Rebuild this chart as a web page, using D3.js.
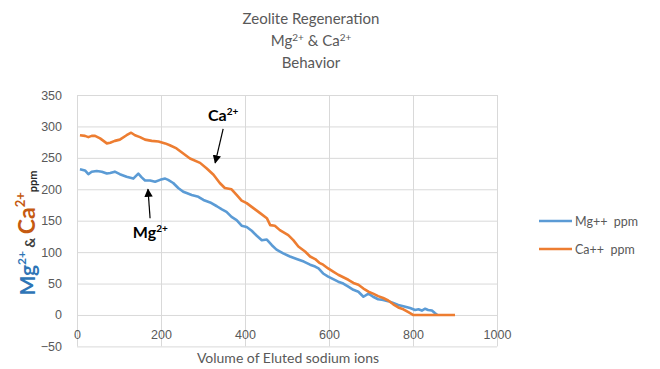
<!DOCTYPE html>
<html>
<head>
<meta charset="utf-8">
<script src="https://cdn.jsdelivr.net/npm/d3@7"></script>
<style>
  body { margin: 0; background: #fff; }
  svg { display: block; font-family: Lato, "Open Sans", sans-serif; }
  .grid line { stroke: #d9d9d9; }
  .grid path { display: none; }
  .tick text { fill: #595959; font-size: 12.5px; }
</style>
</head>
<body>
<div id="chart"></div>
<script>
// volume of eluted sodium ions (x) and ppm readings
var mgVolume = [7, 19, 27, 35, 47, 59, 71, 79, 90, 102, 118, 134, 146, 154, 162, 174, 186, 198, 210, 217,
  229, 241, 253, 261, 273, 289, 301, 317, 333, 345, 356, 368, 380, 392, 404, 416, 428, 440, 452, 464,
  475, 491, 507, 523, 540, 555, 567, 575, 586, 598, 610, 622, 634, 646, 658, 670, 682, 694, 705, 717,
  729, 741, 753, 765, 777, 793, 805, 813, 821, 829, 836, 845, 852, 858];
var mgPpm = [232, 230, 224, 228, 229, 228, 225, 226, 228, 224, 220, 217, 225, 219, 214, 214, 212, 215, 217, 215,
  210, 202, 196, 194, 191, 188, 183, 179, 173, 168, 164, 156, 151, 142, 140, 134, 126, 119, 120, 111,
  104, 98, 93, 89, 85, 80, 77, 74, 66, 61, 57, 53, 50, 45, 40, 37, 29, 34, 29, 25,
  24, 22, 19, 16, 14, 11, 8, 9, 7, 10, 8, 7, 3, 0];

var caVolume = [7, 19, 27, 35, 43, 55, 71, 79, 90, 102, 118, 129, 138, 150, 162, 178, 194, 210, 221, 237,
  253, 269, 293, 309, 325, 340, 352, 368, 380, 392, 404, 420, 436, 452, 460, 471, 483, 503, 515, 527,
  543, 555, 567, 577, 586, 598, 610, 622, 634, 646, 658, 670, 682, 694, 705, 717, 729, 741, 753, 765,
  777, 790, 800, 850, 900];
var caPpm = [286, 285, 283, 285, 285, 281, 273, 274, 277, 279, 286, 290, 286, 283, 279, 277, 276, 273, 270, 265,
  257, 249, 242, 233, 223, 210, 202, 200, 191, 182, 178, 170, 162, 154, 143, 142, 135, 127, 119, 109,
  101, 93, 89, 83, 80, 74, 69, 64, 60, 56, 51, 48, 42, 37, 34, 30, 27, 23, 17, 12,
  9, 4, 0, 0, 0];

var xTicks = [0, 200, 400, 600, 800, 1000];
var yTicks = [-50, 0, 50, 100, 150, 200, 250, 300, 350];
var titleLines = ["Zeolite Regeneration", "Mg|2+| & Ca|2+", "Behavior"];
var legendNames = ["Mg++  ppm", "Ca++  ppm"];
var colors = ["#5b9bd5", "#ed7d31"];

var width = 660, height = 369;
var svg = d3.select("#chart").append("svg")
    .attr("width", width)
    .attr("height", height);

var x = d3.scaleLinear().domain([0, 1000]).range([77, 497]);
var y = d3.scaleLinear().domain([-50, 350]).range([346.4, 95]);

// horizontal gridlines + y labels
svg.append("g")
    .attr("class", "grid")
    .attr("transform", "translate(" + x(0) + ",0)")
    .call(d3.axisLeft(y).tickValues(yTicks).tickSize(-(x(1000) - x(0))).tickPadding(15))
    .selectAll("text").style("text-anchor", "end");

// vertical gridlines
svg.append("g")
    .attr("class", "grid")
    .attr("transform", "translate(0," + y(-50) + ")")
    .call(d3.axisBottom(x).tickValues(xTicks).tickSize(-(y(-50) - y(350))).tickFormat(""));

// x labels sit under the zero line
svg.append("g")
    .attr("class", "grid")
    .attr("transform", "translate(0," + y(0) + ")")
    .call(d3.axisBottom(x).tickValues(xTicks).tickSize(0).tickPadding(15).tickFormat(d3.format("d")))
    .call(function (g) { g.selectAll("line").remove(); });

var line = d3.line()
    .x(function (d) { return x(d[0]); })
    .y(function (d) { return y(d[1]); });

var mgData = mgVolume.map(function (v, i) { return [v, mgPpm[i]]; });
var caData = caVolume.map(function (v, i) { return [v, caPpm[i]]; });

svg.append("path").datum(mgData)
    .attr("d", line).attr("fill", "none")
    .attr("stroke", colors[0]).attr("stroke-width", 2.6).attr("stroke-linejoin", "round");
svg.append("path").datum(caData)
    .attr("d", line).attr("fill", "none")
    .attr("stroke", colors[1]).attr("stroke-width", 2.6).attr("stroke-linejoin", "round");

// title, with superscripts marked by |
var title = svg.append("text")
    .attr("text-anchor", "middle")
    .attr("fill", "#595959")
    .style("font-size", "15px");
titleLines.forEach(function (t, i) {
    var row = title.append("tspan").attr("x", 311).attr("y", 24 + i * 22);
    t.split("|").forEach(function (part, j) {
        if (j % 2 == 1) {
            row.append("tspan").attr("dy", -5).style("font-size", "10px").text(part);
        } else {
            var s = row.append("tspan").text(part);
            if (j > 0) s.attr("dy", 5);
        }
    });
});

// x axis title
svg.append("text")
    .attr("x", 288).attr("y", 363)
    .attr("text-anchor", "middle")
    .attr("fill", "#595959")
    .style("font-size", "14px")
    .text("Volume of Eluted sodium ions");

// y axis title
var yt = svg.append("text")
    .attr("transform", "translate(35,233) rotate(-90)")
    .attr("text-anchor", "middle")
    .style("font-weight", "bold");
yt.append("tspan").attr("fill", "#2e75b6").style("font-size", "21px").text("Mg");
yt.append("tspan").attr("fill", "#2e75b6").style("font-size", "12px").attr("dy", -9).text("2+");
yt.append("tspan").attr("fill", "#404040").style("font-size", "14px").attr("dy", 9).text(" & ");
yt.append("tspan").attr("fill", "#c55a11").style("font-size", "23px").text("Ca");
yt.append("tspan").attr("fill", "#c55a11").style("font-size", "13px").attr("dy", -10).text("2+");
yt.append("tspan").attr("fill", "#262626").style("font-size", "11px").attr("dy", 12).text("ppm");

// legend
var legend = svg.append("g");
legendNames.forEach(function (name, i) {
    var ly = 221 + i * 28;
    legend.append("line")
        .attr("x1", 539).attr("x2", 572).attr("y1", ly).attr("y2", ly)
        .attr("stroke", colors[i]).attr("stroke-width", 2.5);
    legend.append("text")
        .attr("x", 575).attr("y", ly + 4.5)
        .attr("fill", "#595959")
        .style("font-size", "12.5px")
        .style("white-space", "pre")
        .text(name);
});

// annotations in data coordinates
var notes = [
    {label: "Ca", at: [312, 309], from: [348, 296], to: [329, 242]},
    {label: "Mg", at: [133, 122], from: [174, 154], to: [169, 200]}
];
svg.append("defs").append("marker")
    .attr("id", "head").attr("viewBox", "0 0 10 10")
    .attr("refX", 9).attr("refY", 5)
    .attr("markerWidth", 7).attr("markerHeight", 7)
    .attr("orient", "auto")
    .append("path").attr("d", "M0,0L10,5L0,10z").attr("fill", "#000");
notes.forEach(function (n) {
    svg.append("line")
        .attr("x1", x(n.from[0])).attr("y1", y(n.from[1]))
        .attr("x2", x(n.to[0])).attr("y2", y(n.to[1]))
        .attr("stroke", "#000").attr("stroke-width", 1.2)
        .attr("marker-end", "url(#head)");
    var t = svg.append("text")
        .attr("x", x(n.at[0])).attr("y", y(n.at[1]))
        .style("font-weight", "bold").attr("fill", "#000");
    t.append("tspan").style("font-size", "16px").text(n.label);
    t.append("tspan").style("font-size", "10px").attr("dy", -6).text("2+");
});
</script>
</body>
</html>
